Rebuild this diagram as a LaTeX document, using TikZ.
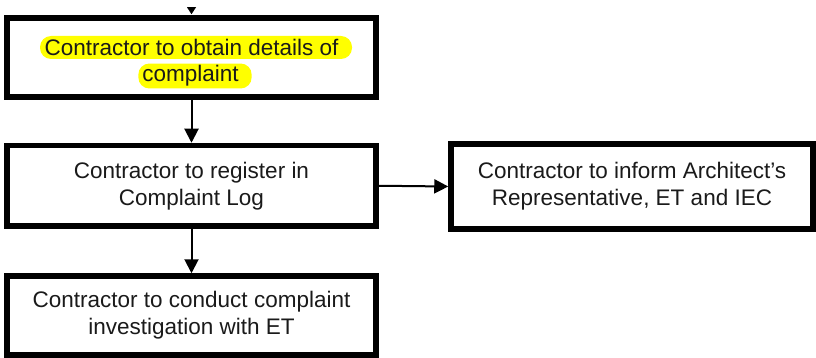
\documentclass[tikz,border=0pt]{standalone}
\usepackage{fontspec}
\setmainfont{Liberation Sans}
\usetikzlibrary{arrows.meta}
\definecolor{ink}{HTML}{1A1A1A}
\definecolor{marker}{HTML}{FFFF00}
\tikzset{
  stepbox/.style={draw=black, line width=5.5pt, fill=white, rectangle,
    align=center, text=ink, font=\fontsize{22.5}{27}\selectfont},
  flow/.style={draw=black, line width=2pt, -{Triangle[length=14pt,width=14pt]}},
  hilite/.style={fill=marker, rounded corners=11pt, text=ink, inner xsep=4pt,
    inner ysep=2pt, font=\fontsize{22.5}{27}\selectfont}
}
\begin{document}
\begin{tikzpicture}[x=1pt,y=-1pt]
  \useasboundingbox (0,0) rectangle (816,358);
  \clip (0,0) rectangle (816,358);
  % boxes
  \node[stepbox, minimum width=369pt, minimum height=79pt] (obtain) at (191.5,57.5) {};
  \node[stepbox, minimum width=369pt, minimum height=80.5pt] (register) at (191.5,185.75)
    {Contractor to register in\\Complaint Log};
  \node[stepbox, minimum width=369pt, minimum height=79pt] (conduct) at (191.5,315.5)
    {Contractor to conduct complaint\\investigation with ET};
  \node[stepbox, minimum width=362pt, minimum height=85pt] (inform) at (632,186.5)
    {Contractor to inform Architect’s\\Representative, ET and IEC};
  % highlighted text lines inside the first box (trailing space is highlighted too)
  \node[hilite, minimum width=312pt, minimum height=23pt] (obtainA) at (196,47.5)
    {Contractor to obtain details of\hspace*{9pt}};
  \node[hilite, minimum width=111pt, minimum height=23pt] (obtainB) at (195,76)
    {complaint\hspace*{9pt}};
  % connectors: the incoming arrow shows only the tip of its head
  \fill[black] ([yshift=1pt]obtain.north) -- ++(-4.5,-7) -- ++(9,0) -- cycle;
  \draw[flow] (obtain.south) -- (register.north);
  \draw[flow] (register.south) -- (conduct.north);
  \draw[flow] (register.east) -- (inform.west);
\end{tikzpicture}
\end{document}
